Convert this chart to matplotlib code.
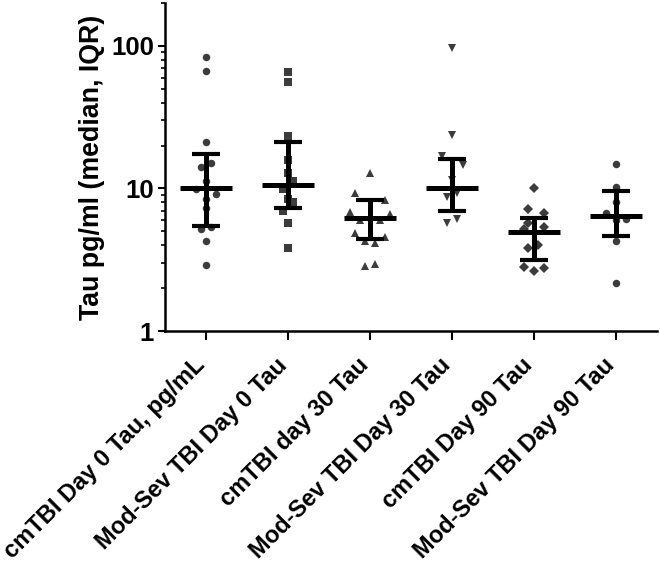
import numpy as np
import matplotlib
matplotlib.use("Agg")
import matplotlib.pyplot as plt
import matplotlib.transforms as mtransforms
from matplotlib.ticker import LogLocator, NullFormatter, FixedLocator, FixedFormatter

plt.rcParams['font.family'] = ['Liberation Sans', 'DejaVu Sans']
plt.rcParams['font.weight'] = 'bold'

# ---- data ----
categories = ["cmTBI Day 0 Tau, pg/mL", "Mod-Sev TBI Day 0 Tau", "cmTBI day 30 Tau",
              "Mod-Sev TBI Day 30 Tau", "cmTBI Day 90 Tau", "Mod-Sev TBI Day 90 Tau"]

g1_vals = [84, 67, 21.2, 14.2, 15.2, 11.2, 9.9, 9.15, 8.5, 7.26, 5.17, 5.39, 4.28, 2.89]
g1_jit = [0, 0, 0, -0.06, 0.06, 0, -0.12, 0.12, 0, 0, -0.06, 0.06, 0, 0]

g2_vals = [66, 56, 23.4, 15.9, 12.9, 11.3, 9.87, 8.4, 8.1, 7.0, 5.75, 3.82]
g2_jit = [0, 0, 0, 0, 0, 0.065, -0.057, 0, 0.065, -0.057, 0, 0]

g3_vals = [12.9, 9.25, 8.3, 6.8, 6.62, 6.0, 6.0, 4.85, 4.59, 4.3, 4.13, 2.86, 2.95]
g3_jit = [0, -0.18, 0.18, -0.24, 0.24, -0.12, 0.12, -0.18, 0.18, -0.06, 0.06, -0.06, 0.06]

g4_vals = [97, 23.7, 16.9, 14.6, 11.5, 8.76, 9.25, 5.7, 6.08]
g4_jit = [0, 0, -0.12, 0.14, 0, -0.06, 0.06, -0.06, 0.06]

g5_vals = [10.0, 7.18, 6.7, 5.7, 5.37, 5.17, 3.84, 4.0, 2.83, 2.64, 2.75]
g5_jit = [0, -0.07, 0.12, -0.07, 0.12, -0.12, -0.07, 0.05, -0.12, 0, 0.12]

g6_vals = [14.9, 10.2, 8.08, 6.7, 6.08, 6.0, 4.3, 2.16]
g6_jit = [0, 0, 0, -0.12, 0.12, 0, 0, 0]

medians = [10.0, 10.6, 6.18, 10.0, 4.93, 6.41]
q3 = [17.4, 21.3, 8.3, 16.0, 6.18, 9.56]
q1 = [5.48, 7.26, 4.4, 7.0, 3.15, 4.66]

markers = ['o', 's', '^', 'v', 'D', 'o']
msizes = [5.4, 5.2, 6, 6, 4.6, 5.4]

groups = [(g1_vals, g1_jit), (g2_vals, g2_jit), (g3_vals, g3_jit),
          (g4_vals, g4_jit), (g5_vals, g5_jit), (g6_vals, g6_jit)]

# ---- plot ----
fig = plt.figure(figsize=(6.6, 5.67), dpi=100)
ax = fig.add_axes([0.25, 0.4162, 0.7455, 0.5785])

for i, (vals, jit) in enumerate(groups):
    x = i + np.array(jit)
    ax.plot(x, vals, linestyle='none', marker=markers[i], markersize=msizes[i],
            color='#3c3c3c', markeredgewidth=0, zorder=2, clip_on=False)

xs = np.arange(len(categories))
ax.hlines(medians, xs - 0.32, xs + 0.32, color='black', linewidth=3.6, zorder=3)
ax.vlines(xs, q1, q3, color='black', linewidth=3.6, zorder=3)
ax.hlines(q1, xs - 0.165, xs + 0.165, color='black', linewidth=3.0, zorder=3)
ax.hlines(q3, xs - 0.165, xs + 0.165, color='black', linewidth=3.0, zorder=3)

ax.set_yscale('log')
ax.set_ylim(1, 200)
ax.set_xlim(-0.5, 5.5)

ax.yaxis.set_major_locator(FixedLocator([1, 10, 100]))
ax.yaxis.set_major_formatter(FixedFormatter(['1', '10', '100']))
ax.yaxis.set_minor_locator(LogLocator(base=10, subs=np.arange(2, 10)))
ax.yaxis.set_minor_formatter(NullFormatter())

ax.set_xticks(xs)
ax.set_xticklabels(categories, rotation=45, ha='right', va='baseline',
                   rotation_mode='anchor', fontsize=17, fontweight='bold')
shift = mtransforms.ScaledTranslation(5 / 100, 0, fig.dpi_scale_trans)
for lab in ax.get_xticklabels():
    lab.set_transform(lab.get_transform() + shift)

ax.tick_params(axis='y', which='major', length=5, width=1.5, labelsize=18.5, pad=3)
ax.tick_params(axis='y', which='minor', length=3, width=1.2)
ax.tick_params(axis='x', which='major', length=6.5, width=1.5, pad=19)

for s in ['top', 'right']:
    ax.spines[s].set_visible(False)
for s in ['left', 'bottom']:
    ax.spines[s].set_linewidth(1.8)

ax.set_ylabel("Tau pg/ml (median, IQR)", fontsize=19.3, fontweight='bold', labelpad=4)

fig.savefig("out.png", dpi=100)
